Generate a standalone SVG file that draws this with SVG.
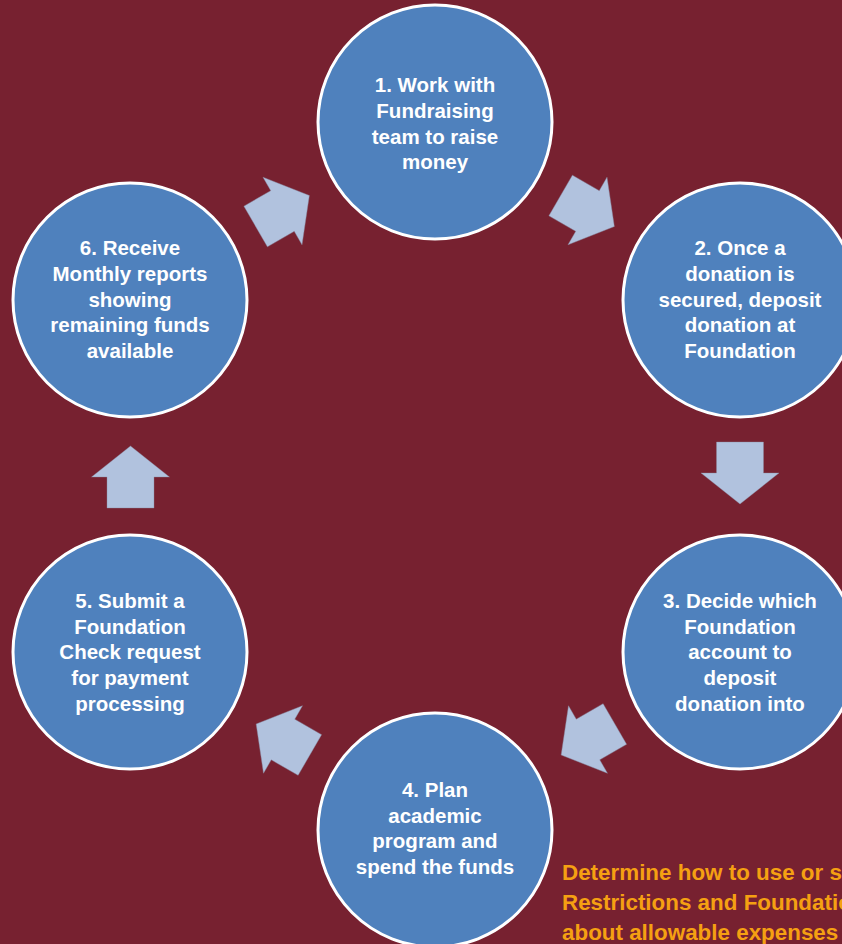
<svg xmlns="http://www.w3.org/2000/svg" xmlns:xlink="http://www.w3.org/1999/xlink" width="842" height="944" viewBox="0 0 842 944">
<style>
.bg{fill:#772130}
.node circle{fill:#4F81BD;stroke:#FFFFFF;stroke-width:3}
.node text{font-family:"Liberation Sans",Arial,sans-serif;font-weight:bold;font-size:20.5px;fill:#FFFFFF;text-anchor:middle}
.arrow{fill:#B1C2DE;stroke:#8a8aa0;stroke-width:0.4}
.note{font-family:"Liberation Sans",Arial,sans-serif;font-weight:bold;font-size:22.4px;fill:#F5A012}
</style>
<defs>
<polygon id="arr" points="-23.5,-31 23.5,-31 23.5,0 39,0 0,31 -39,0 -23.5,0"/>
</defs>
<rect class="bg" x="0" y="0" width="842" height="944"/>
<g id="connectors">
<use class="arrow" xlink:href="#arr" href="#arr" transform="translate(587.5,211) rotate(-60)"/>
<use class="arrow" xlink:href="#arr" href="#arr" transform="translate(740,473) rotate(0)"/>
<use class="arrow" xlink:href="#arr" href="#arr" transform="translate(588,739.5) rotate(60)"/>
<use class="arrow" xlink:href="#arr" href="#arr" transform="translate(283,739.5) rotate(120)"/>
<use class="arrow" xlink:href="#arr" href="#arr" transform="translate(130.5,477) rotate(180)"/>
<use class="arrow" xlink:href="#arr" href="#arr" transform="translate(282.5,211) rotate(240)"/>
</g>
<g id="node1" class="node">
<circle cx="435" cy="122" r="117"/>
<text x="435" y="92">1. Work with</text>
<text x="435" y="118">Fundraising</text>
<text x="435" y="143.5">team to raise</text>
<text x="435" y="169">money</text>
</g>
<g id="node2" class="node">
<circle cx="740" cy="300" r="117"/>
<text x="740" y="255">2. Once a</text>
<text x="740" y="281">donation is</text>
<text x="740" y="306.5">secured, deposit</text>
<text x="740" y="332">donation at</text>
<text x="740" y="357.5">Foundation</text>
</g>
<g id="node3" class="node">
<circle cx="740" cy="652" r="117"/>
<text x="740" y="608">3. Decide which</text>
<text x="740" y="633.5">Foundation</text>
<text x="740" y="659">account to</text>
<text x="740" y="685">deposit</text>
<text x="740" y="710.5">donation into</text>
</g>
<g id="node4" class="node">
<circle cx="435" cy="830" r="117"/>
<text x="435" y="797">4. Plan</text>
<text x="435" y="822.5">academic</text>
<text x="435" y="848">program and</text>
<text x="435" y="873.5">spend the funds</text>
</g>
<g id="node5" class="node">
<circle cx="130" cy="652" r="117"/>
<text x="130" y="608">5. Submit a</text>
<text x="130" y="633.5">Foundation</text>
<text x="130" y="659">Check request</text>
<text x="130" y="685">for payment</text>
<text x="130" y="710.5">processing</text>
</g>
<g id="node6" class="node">
<circle cx="130" cy="300" r="117"/>
<text x="130" y="255">6. Receive</text>
<text x="130" y="281">Monthly reports</text>
<text x="130" y="306.5">showing</text>
<text x="130" y="332">remaining funds</text>
<text x="130" y="357.5">available</text>
</g>
<g id="note">
<text class="note" x="562" y="880">Determine how to use or s</text>
<text class="note" x="562" y="910">Restrictions and Foundatio</text>
<text class="note" x="562" y="940">about allowable expenses</text>
</g>
</svg>
